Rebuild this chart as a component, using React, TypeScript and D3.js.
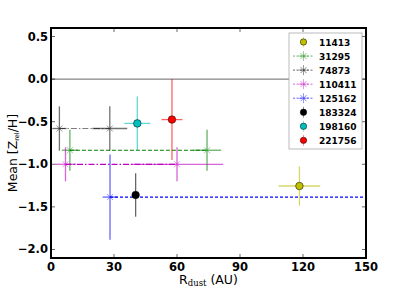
import React from "react";
import * as d3 from "d3";

// stars (legend order)
const stars = ["11413", "31295", "74873", "110411", "125162", "183324", "198160", "221756"];
const colors = ["#bfbf00", "#008000", "#000000", "#bf00bf", "#0000ff", "#000000", "#00bfbf", "#ff0000"];
const markers = ["o", "x", "x", "x", "x", "o", "o", "o"];
const dashes = ["", "4,2", "6,2,1.5,2", "6,2,1.5,2", "3,2", "", "", ""];

// R_dust (AU) per star
const rDust = [[118.3], [9.0, 74.3], [4.0, 28.0], [6.9, 60.0], [28.1, 175], [40.3], [41.1], [57.6]];
const rErr = [[9.9], [3.8, 6.7], [3.4, 8.3], [5.0, 22.0], [3.5, 3.5], [0], [6.2], [5.0]];
// Mean Z_rel/H per star
const meanZ = [[-1.255], [-0.835, -0.835], [-0.58, -0.58], [-1.0, -1.0], [-1.385, -1.385], [-1.36], [-0.52], [-0.475]];
const zErr = [[0.23], [0.24, 0.24], [0.26, 0.26], [0.2, 0.2], [0.5, 0.5], [0.255], [0.315], [0.475]];

const xTicks = [0, 30, 60, 90, 120, 150];
const yTicks = [0.5, 0.0, -0.5, -1.0, -1.5, -2.0];

const W = 407;
const H = 288;
const m = { left: 51, right: 41, top: 28, bottom: 30 };

const x = d3.scaleLinear().domain([0, 150]).range([m.left, W - m.right]);
const y = d3.scaleLinear().domain([-2.1, 0.6]).range([H - m.bottom, m.top]);

const tickFont = "'DejaVu Sans', sans-serif";
const fmt = (v: number) => v.toFixed(1).replace("-", "\u2212");

function Marker({ cx, cy, type, color, alpha, r = 3.8 }: { cx: number; cy: number; type: string; color: string; alpha: number; r?: number }) {
  if (type === "o") {
    return <circle cx={cx} cy={cy} r={r} fill={color} stroke="#000" strokeWidth={0.5} />;
  }
  const s = 3;
  return (
    <g stroke={color} strokeWidth={0.8} opacity={alpha}>
      <line x1={cx - s} y1={cy - s} x2={cx + s} y2={cy + s} />
      <line x1={cx - s} y1={cy + s} x2={cx + s} y2={cy - s} />
    </g>
  );
}

export default function App() {
  const x0 = x.range()[0];
  const x1 = x.range()[1];
  const yTop = y.range()[1];
  const yBot = y.range()[0];

  return (
    <svg width={W} height={H} style={{ position: "absolute", left: 0, top: 0, background: "#fff" }}>
      <defs>
        <clipPath id="plot">
          <rect x={x0} y={yTop} width={x1 - x0} height={yBot - yTop} />
        </clipPath>
      </defs>
      <g clipPath="url(#plot)">
        {/* zero line */}
        <line x1={x0} x2={x1} y1={y(0)} y2={y(0)} stroke="#000" strokeWidth={1} opacity={0.6} />
        {stars.map((s, i) => {
          const c = colors[i];
          const faded = i === 2 ? 0.5 : 1;
          const line = d3
            .line<number>()
            .x((_, j) => x(rDust[i][j]))
            .y((d) => y(d));
          return (
            <g key={s}>
              {rDust[i].length > 1 && (
                <path d={line(meanZ[i]) || ""} fill="none" stroke={c} strokeWidth={1.2} strokeDasharray={dashes[i]} opacity={faded} />
              )}
              {rDust[i].map((r, j) => (
                <g key={j} stroke={c} strokeWidth={1.3} opacity={i === 2 ? 0.55 : 0.6}>
                  <line x1={x(r - rErr[i][j])} x2={x(r + rErr[i][j])} y1={y(meanZ[i][j])} y2={y(meanZ[i][j])} />
                  <line x1={x(r)} x2={x(r)} y1={y(meanZ[i][j] - zErr[i][j])} y2={y(meanZ[i][j] + zErr[i][j])} />
                </g>
              ))}
              {rDust[i].map((r, j) => (
                <Marker key={"m" + j} cx={x(r)} cy={y(meanZ[i][j])} type={markers[i]} color={c} alpha={0.5} />
              ))}
            </g>
          );
        })}
      </g>

      {/* ticks inside on all sides */}
      {xTicks.map((t) => (
        <g key={"xt" + t}>
          <line x1={x(t)} x2={x(t)} y1={yBot} y2={yBot - 4} stroke="#000" strokeWidth={0.6} />
          <line x1={x(t)} x2={x(t)} y1={yTop} y2={yTop + 4} stroke="#000" strokeWidth={0.6} />
          <text x={x(t)} y={yBot + 13} textAnchor="middle" fontFamily={tickFont} fontWeight="bold" fontSize={11.5}>
            {t}
          </text>
        </g>
      ))}
      {yTicks.map((t) => (
        <g key={"yt" + t}>
          <line x1={x0} x2={x0 + 4} y1={y(t)} y2={y(t)} stroke="#000" strokeWidth={0.6} />
          <line x1={x1} x2={x1 - 4} y1={y(t)} y2={y(t)} stroke="#000" strokeWidth={0.6} />
          <text x={x0 - 3} y={y(t) + 4} textAnchor="end" fontFamily={tickFont} fontWeight="bold" fontSize={11.5}>
            {fmt(t)}
          </text>
        </g>
      ))}

      <rect x={x0} y={yTop} width={x1 - x0} height={yBot - yTop} fill="none" stroke="#000" strokeWidth={2} />

      {/* axis labels */}
      <text x={(x0 + x1) / 2} y={H - 4} textAnchor="middle" fontFamily={tickFont} fontSize={12.5}>
        R<tspan fontFamily="'DejaVu Serif', serif" fontSize={8.5} dy={2}>dust</tspan>
        <tspan dy={-2}> (AU)</tspan>
      </text>
      <text transform={`translate(17,${(yTop + yBot) / 2 + 10}) rotate(-90)`} textAnchor="middle" fontFamily={tickFont} fontSize={12.5}>
        Mean [Z<tspan fontSize={6.5} dy={2}>rel</tspan>
        <tspan dy={-2}>/H]</tspan>
      </text>

      {/* legend */}
      <g transform="translate(289,33)">
        <rect x={0} y={0} width={73} height={116} fill="#fff" stroke="#aaa" strokeWidth={0.8} />
        {stars.map((s, i) => {
          const ly = 9 + i * 14.05;
          return (
            <g key={"lg" + s}>
              {dashes[i] && (
                <line x1={4} x2={25} y1={ly} y2={ly} stroke={colors[i]} strokeWidth={1} strokeDasharray="2,1.5" opacity={0.6} />
              )}
              {markers[i] === "x" && (
                <g stroke={colors[i]} strokeWidth={1} opacity={0.4}>
                  <line x1={14.5} x2={14.5} y1={ly - 5} y2={ly + 5} />
                  <line x1={9.5} x2={19.5} y1={ly} y2={ly} />
                </g>
              )}
              {markers[i] === "o" && (
                <g stroke={colors[i]} strokeWidth={1} opacity={0.4}>
                  <line x1={14.5} x2={14.5} y1={ly - 5.5} y2={ly + 5.5} />
                </g>
              )}
              <Marker cx={14.5} cy={ly} type={markers[i]} color={colors[i]} alpha={0.6} r={3.2} />
              <text x={30} y={ly + 3.5} fontFamily={tickFont} fontWeight="bold" fontSize={9}>
                {s}
              </text>
            </g>
          );
        })}
      </g>
    </svg>
  );
}
